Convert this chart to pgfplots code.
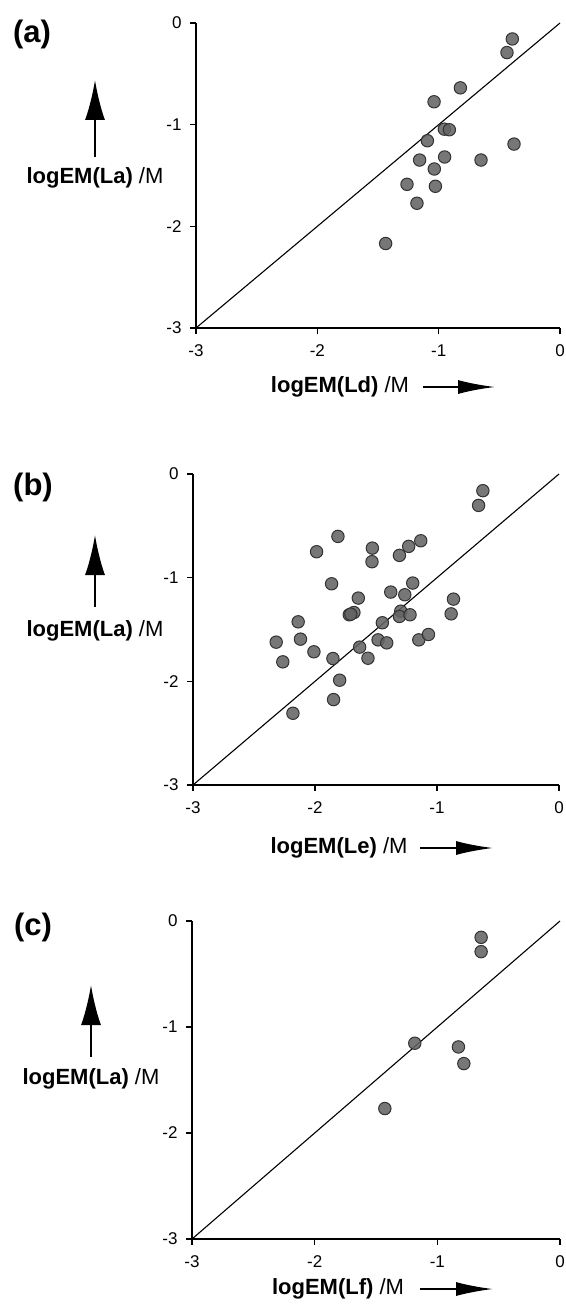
\documentclass[border=0pt]{standalone}
\usepackage{fontspec}
\setmainfont{Liberation Sans}
\usepackage{pgfplots}
\pgfplotsset{compat=1.18}
\usepackage{pgfplotstable}
\usetikzlibrary{arrows.meta}
\definecolor{mfill}{RGB}{100,100,100}
\definecolor{medge}{RGB}{50,50,50}

\pgfplotstableread{
x y
-0.393 -0.157
-0.437 -0.291
-0.821 -0.638
-1.038 -0.775
-0.953 -1.044
-0.912 -1.050
-1.093 -1.158
-0.379 -1.191
-1.157 -1.348
-0.951 -1.318
-0.651 -1.348
-1.036 -1.436
-1.261 -1.587
-1.027 -1.606
-1.179 -1.773
-1.437 -2.169
}\dataA

\pgfplotstableread{
x y
-0.624 -0.161
-0.659 -0.303
-1.812 -0.602
-1.133 -0.644
-1.232 -0.698
-1.530 -0.715
-1.308 -0.785
-1.987 -0.750
-1.533 -0.846
-1.864 -1.059
-1.199 -1.052
-1.379 -1.139
-1.264 -1.165
-1.645 -1.197
-0.865 -1.207
-0.884 -1.349
-1.681 -1.336
-1.719 -1.358
-1.706 -1.352
-1.297 -1.323
-1.308 -1.374
-1.221 -1.358
-2.138 -1.426
-1.448 -1.435
-2.318 -1.622
-2.119 -1.593
-1.483 -1.600
-1.412 -1.629
-1.149 -1.600
-1.070 -1.548
-1.634 -1.670
-2.009 -1.715
-2.264 -1.812
-1.853 -1.780
-1.566 -1.777
-1.798 -1.989
-1.848 -2.176
-2.181 -2.308
}\dataB

\pgfplotstableread{
x y
-0.643 -0.154
-0.643 -0.289
-1.184 -1.153
-0.828 -1.188
-0.784 -1.345
-1.428 -1.769
}\dataC

\pgfplotsset{
  myax/.style={
    anchor=south west, scale only axis,
    xmin=-3, xmax=0, ymin=-3, ymax=0,
    axis x line*=bottom, axis y line*=left,
    xtick={-3,-2,-1,0}, xticklabels={-3,-2,-1,0},
    ytick={-3,-2,-1,0}, yticklabels={-3,-2,-1,0},
    tick align=outside, major tick length=6pt,
    tick style={line width=1.2pt, black},
    axis line style={line width=1.6pt, black},
    tick label style={font=\fontsize{17}{19}\selectfont},
    xticklabel style={yshift=-7pt},
    yticklabel style={xshift=-5pt},
    clip=false,
  },
  mypts/.style={only marks, mark=*, mark size=6.2pt,
    mark options={fill=mfill, draw=medge, line width=1pt, fill opacity=0.88}},
  diag/.style={black, line width=1.1pt, no marks},
}

\begin{document}
\begin{tikzpicture}
\path[use as bounding box] (0pt,0pt) rectangle (565pt,-1305pt);

% (a)
\begin{axis}[myax, at={(196pt,-328pt)}, width=364pt, height=305pt]
\addplot[diag] coordinates {(-3,-3) (0,0)};
\addplot[mypts] table[x=x,y=y] {\dataA};
\end{axis}
\node[font=\bfseries\fontsize{31}{32}\selectfont] at (32pt,-34pt) {(a)};
\draw[line width=2.2pt, -{Latex[length=40pt,width=20pt]}] (95pt,-157pt) -- (95pt,-80pt);
\node[font=\fontsize{22}{24}\selectfont] at (95pt,-178pt) {\textbf{logEM(La)} /M};
\node[font=\fontsize{22}{24}\selectfont] at (340pt,-387pt) {\textbf{logEM(Ld)} /M};
\draw[line width=2pt, -{Latex[length=37pt,width=14pt]}] (423pt,-387pt) -- (495pt,-387pt);

% (b)
\begin{axis}[myax, at={(193pt,-785pt)}, width=366pt, height=311pt]
\addplot[diag] coordinates {(-3,-3) (0,0)};
\addplot[mypts] table[x=x,y=y] {\dataB};
\end{axis}
\node[font=\bfseries\fontsize{31}{32}\selectfont] at (33pt,-487pt) {(b)};
\draw[line width=2.2pt, -{Latex[length=40pt,width=20pt]}] (95pt,-607pt) -- (95pt,-535pt);
\node[font=\fontsize{22}{24}\selectfont] at (95pt,-631pt) {\textbf{logEM(La)} /M};
\node[font=\fontsize{22}{24}\selectfont] at (339pt,-848pt) {\textbf{logEM(Le)} /M};
\draw[line width=2pt, -{Latex[length=37pt,width=14pt]}] (420pt,-848pt) -- (493pt,-848pt);

% (c)
\begin{axis}[myax, at={(192pt,-1239pt)}, width=368pt, height=318pt]
\addplot[diag] coordinates {(-3,-3) (0,0)};
\addplot[mypts] table[x=x,y=y] {\dataC};
\end{axis}
\node[font=\bfseries\fontsize{31}{32}\selectfont] at (33pt,-927pt) {(c)};
\draw[line width=2.2pt, -{Latex[length=40pt,width=20pt]}] (91pt,-1057pt) -- (91pt,-985pt);
\node[font=\fontsize{22}{24}\selectfont] at (91pt,-1079pt) {\textbf{logEM(La)} /M};
\node[font=\fontsize{22}{24}\selectfont] at (338pt,-1289pt) {\textbf{logEM(Lf)} /M};
\draw[line width=2pt, -{Latex[length=37pt,width=14pt]}] (420pt,-1289pt) -- (493pt,-1289pt);
\end{tikzpicture}
\end{document}
